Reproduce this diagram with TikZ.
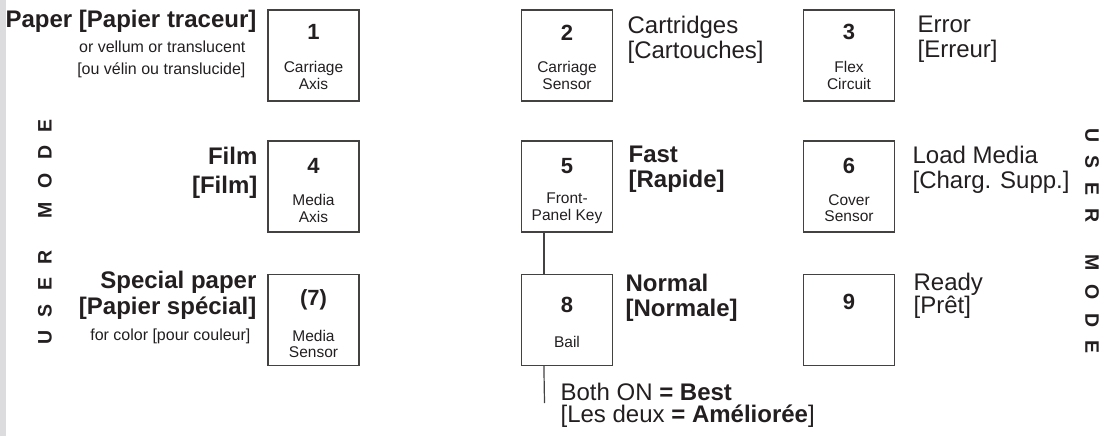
\documentclass[tikz,border=0pt]{standalone}
\usepackage{fontspec}
\setmainfont{Liberation Sans}
\usetikzlibrary{positioning}
\definecolor{cink}{HTML}{231F20}
\definecolor{cedge}{HTML}{DCDCDF}
\newcommand{\usermode}{U\hskip13.5pt S\hskip13.5pt E\hskip13.5pt R\hskip32pt M\hskip13.5pt O\hskip13.5pt D\hskip13.5pt E}
\tikzset{
  every picture/.style={line width=1.2pt},
  key/.style={draw=cink!85, minimum size=91pt, inner sep=0pt},
  keynum/.style={font=\fontsize{22}{24}\selectfont\bfseries, text=cink, inner sep=0pt},
  keycap/.style={font=\fontsize{15.5}{16.5}\selectfont, text=cink, align=center, inner sep=0pt},
  big/.style={font=\fontsize{24}{25}\selectfont, text=cink, inner sep=0pt},
  bigbold/.style={font=\fontsize{24}{25}\selectfont\bfseries, text=cink, inner sep=0pt},
  small/.style={font=\fontsize{16}{22}\selectfont, text=cink, inner sep=0pt},
  vmode/.style={font=\fontsize{19.5}{20}\selectfont\bfseries, text=cink, inner sep=0pt},
}

\begin{document}
\begin{tikzpicture}[x=1pt, y=-1pt]
  \useasboundingbox (0,0) rectangle (1108,436);
  \fill[cedge] (0,0) rectangle (6,436);
  % the nine keys
  \node[key] (k1) at (313.5,55.5) {};
  \node[keynum] (k1num) at ([yshift=-23pt]k1.north) {1};
  \node[keycap] (k1cap) at ([yshift=-66pt]k1.north) {Carriage\\Axis};
  \node[key] (k2) at (567,55.5) {};
  \node[keynum] (k2num) at ([yshift=-23pt]k2.north) {2};
  \node[keycap] (k2cap) at ([yshift=-66pt]k2.north) {Carriage\\Sensor};
  \node[key] (k3) at (849,55.5) {};
  \node[keynum] (k3num) at ([yshift=-23pt]k3.north) {3};
  \node[keycap] (k3cap) at ([yshift=-66pt]k3.north) {Flex\\Circuit};
  \node[key] (k4) at (313.5,186.5) {};
  \node[keynum] (k4num) at ([yshift=-26pt]k4.north) {4};
  \node[keycap] (k4cap) at ([yshift=-68pt]k4.north) {Media\\Axis};
  \node[key] (k5) at (567,186.5) {};
  \node[keynum] (k5num) at ([yshift=-26pt]k5.north) {5};
  \node[keycap] (k5cap) at ([yshift=-68pt]k5.north) {Front-\\Panel Key};
  \node[key] (k6) at (849,186.5) {};
  \node[keynum] (k6num) at ([yshift=-26pt]k6.north) {6};
  \node[keycap] (k6cap) at ([yshift=-68pt]k6.north) {Cover\\Sensor};
  \node[key] (k7) at (313.5,320) {};
  \node[keynum] (k7num) at ([yshift=-26pt]k7.north) {(7)};
  \node[keycap] (k7cap) at ([yshift=-70pt]k7.north) {Media\\Sensor};
  \node[key] (k8) at (567,320) {};
  \node[keynum] (k8num) at ([yshift=-31pt]k8.north) {8};
  \node[keycap] (k8cap) at ([yshift=-68pt]k8.north) {Bail};
  \node[key] (k9) at (849,320) {};
  \node[keynum] (k9num) at ([yshift=-28pt]k9.north) {9};
  % left column labels
  \node[bigbold, anchor=east] (paper) at (257,21) {Paper [Papier traceur]};
  \node[small, anchor=east, align=right] (vellum) at (246,59) {or vellum or translucent\\{}[ou vélin ou translucide]};
  \node[bigbold, anchor=east, align=right, font=\fontsize{24}{29}\selectfont\bfseries] (film) at (258,172.5) {Film\\{}[Film]};
  \node[bigbold, anchor=east, align=right, font=\fontsize{24}{26}\selectfont\bfseries] (special) at (257,295) {Special paper\\{}[Papier spécial]};
  \node[small, anchor=east] (color) at (251,336) {for color [pour couleur]};
  % right column labels
  \node[big, anchor=west, align=left] (cart) at (627,39.5) {Cartridges\\{}[Cartouches]};
  \node[big, anchor=west, align=left] (error) at (917,39.5) {Error\\{}[Erreur]};
  \node[bigbold, anchor=west, align=left] (fast) at (628,169.5) {Fast\\{}[Rapide]};
  \node[big, anchor=west, align=left] (load) at (912,169.5) {Load Media\\{}[Charg. Supp.]};
  \node[bigbold, anchor=west, align=left] (normal) at (625,297.5) {Normal\\{}[Normale]};
  \node[big, anchor=west, align=left, font=\fontsize{24}{23}\selectfont] (ready) at (913,296) {Ready\\{}[Prêt]};
  % bail + front-panel key
  \draw[cink!85] ([xshift=23pt]k5.south west) -- ([xshift=23pt]k8.north west);
  \coordinate (bothend) at (544.5,403);
  \draw[cink!85] ([xshift=23pt]k8.south west) -- (bothend);
  \node[big, anchor=west, align=left, font=\fontsize{24}{22}\selectfont] (both) at (560,405) {Both ON \textbf{= Best}\\{}[Les deux \textbf{= Améliorée}]};
  % side titles
  \node[vmode, rotate=90] (modeleft) at (45,232) {\usermode};
  \node[vmode, rotate=-90] (moderight) at (1092,241) {\usermode};
\end{tikzpicture}
\end{document}
